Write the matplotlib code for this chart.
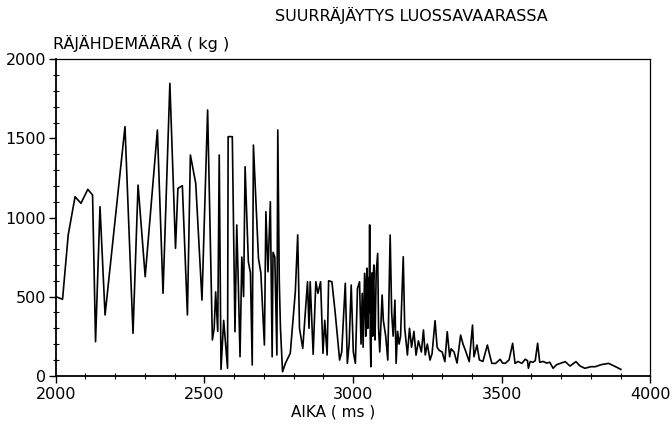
import matplotlib
matplotlib.use("Agg")
import matplotlib.pyplot as plt
from matplotlib.ticker import MultipleLocator

# Time (ms) and explosive charge (kg)
aika_ms = [
    2000, 2023, 2042, 2065, 2085, 2108, 2124, 2134, 2149, 2166,
    2233, 2260, 2277, 2301, 2342, 2361, 2384, 2403, 2411, 2426,
    2443, 2453, 2471, 2492, 2511, 2527, 2533, 2538, 2545, 2550,
    2556, 2565, 2578, 2580, 2594, 2603, 2609, 2614, 2620, 2626,
    2632, 2637, 2648, 2655, 2661, 2665, 2682, 2690, 2702, 2707,
    2714, 2722, 2728, 2731, 2737, 2744, 2747, 2752, 2756, 2763,
    2773, 2789, 2806, 2814, 2820, 2831, 2847, 2852, 2856, 2866,
    2875, 2882, 2891, 2899, 2905, 2913, 2918, 2929, 2940, 2955,
    2962, 2974, 2981, 2987, 2994, 3001, 3008, 3015, 3022, 3027,
    3031, 3034, 3039, 3043, 3045, 3047, 3050, 3052, 3054, 3056,
    3058, 3060, 3062, 3064, 3066, 3068, 3070, 3072, 3074, 3078,
    3083, 3086, 3090, 3098, 3102, 3110, 3117, 3125, 3130, 3135,
    3141, 3145, 3150, 3155, 3160, 3169, 3174, 3183, 3190, 3197,
    3205, 3212, 3220, 3230, 3237, 3243, 3250, 3259, 3266, 3276,
    3283, 3290, 3300, 3309, 3317, 3325, 3330, 3340, 3350, 3362,
    3370, 3380, 3391, 3402, 3407, 3417, 3425, 3437, 3452, 3460,
    3467, 3480, 3495, 3503, 3512, 3525, 3537, 3545, 3555, 3568,
    3579, 3587, 3590, 3596, 3605, 3613, 3621, 3628, 3640, 3651,
    3662, 3673, 3685, 3700, 3714, 3730, 3750, 3764, 3780, 3800,
    3815, 3835, 3860, 3880, 3901,
]
rajahde_kg = [
    500, 483, 889, 1131, 1090, 1178, 1142, 215, 1068, 384,
    1574, 268, 1205, 626, 1553, 521, 1848, 805, 1184, 1201,
    384, 1395, 1216, 478, 1680, 226, 300, 530, 280, 1395,
    40, 350, 47, 1511, 1511, 278, 953, 600, 120, 750,
    500, 1321, 720, 650, 68, 1458, 742, 650, 194, 1037,
    657, 1100, 120, 780, 750, 131, 1553, 600, 300, 25,
    80, 142, 531, 890, 300, 173, 594, 300, 594, 135,
    594, 521, 594, 142, 350, 131, 600, 594, 400, 99,
    150, 584, 78, 200, 573, 150, 78, 550, 594, 200,
    520, 180, 647, 250, 600, 680, 300, 620, 400, 953,
    250, 57, 600, 650, 250, 600, 700, 300, 226, 650,
    773, 300, 150, 510, 350, 250, 99, 889, 400, 250,
    478, 78, 280, 200, 250, 752, 300, 131, 300, 180,
    280, 130, 220, 150, 289, 131, 200, 99, 140, 348,
    180, 160, 150, 89, 278, 120, 170, 150, 80, 257,
    200, 150, 89, 320, 120, 194, 100, 90, 194, 130,
    78, 78, 104, 80, 78, 100, 205, 78, 90, 78,
    104, 95, 47, 90, 85, 95, 205, 85, 90, 80,
    85, 47, 70, 80, 89, 61, 89, 61, 47, 57,
    57, 70, 78, 60, 40,
]

title_text = "SUURRÄJÄYTYS LUOSSAVAARASSA"
ylabel_text = "RÄJÄHDEMÄÄRÄ ( kg )"
xlabel_text = "AIKA ( ms )"
xticks = [2000, 2500, 3000, 3500, 4000]
yticks = [0, 500, 1000, 1500, 2000]

plt.rcParams['font.family'] = ['DejaVu Sans']

fig = plt.figure(figsize=(6.72, 4.29), dpi=100)
ax = fig.add_axes([0.0829, 0.1242, 0.8848, 0.7376])

ax.plot(aika_ms, rajahde_kg, color='black', linewidth=1.2)

ax.set_xlim(2000, 4000)
ax.set_ylim(0, 2000)
ax.set_xticks(xticks)
ax.set_yticks(yticks)
ax.set_xticklabels([str(v) for v in xticks])
ax.set_yticklabels([str(v) for v in yticks])
ax.xaxis.set_minor_locator(MultipleLocator(100))
ax.yaxis.set_minor_locator(MultipleLocator(100))

ax.tick_params(axis='both', which='major', direction='out', length=5,
               width=1, labelsize=11.5, colors='black')
ax.tick_params(axis='both', which='minor', direction='inout', length=4, width=0.8)
ax.tick_params(axis='x', pad=3)
ax.tick_params(axis='y', pad=2)

for side in ['left', 'bottom']:
    ax.spines[side].set_linewidth(1.3)
for side in ['top', 'right']:
    ax.spines[side].set_linewidth(0.9)

fig.text(411 / 672, 1 - 15 / 429, title_text, ha='center', va='center',
         fontsize=11.5, color='black')
fig.text(53 / 672, 1 - 43 / 429, ylabel_text, ha='left', va='center',
         fontsize=11.5, color='black')
fig.text(333 / 672, 1 - 412 / 429, xlabel_text, ha='center', va='center',
         fontsize=11, color='black')

fig.savefig("out.png", dpi=100)
